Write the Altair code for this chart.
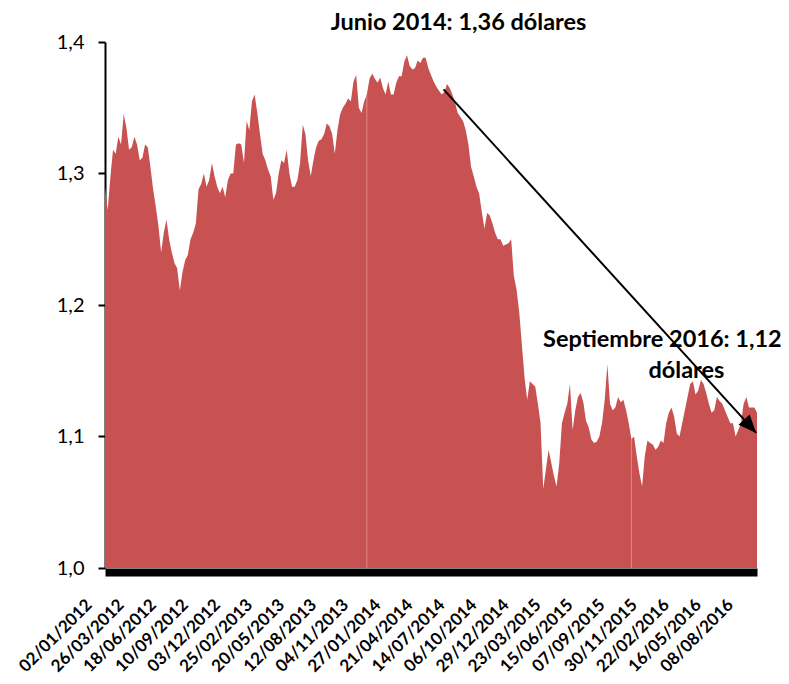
import math
import altair as alt
import pandas as pd

# Weekly EUR/USD readings (one per week, starting Monday 02/01/2012)
valores = [
    1.290, 1.272, 1.297, 1.318, 1.315, 1.328, 1.322, 1.345, 1.335, 1.318,
    1.320, 1.328, 1.322, 1.310, 1.312, 1.322, 1.320, 1.305, 1.288, 1.275,
    1.260, 1.240, 1.255, 1.265, 1.250, 1.240, 1.232, 1.228, 1.211, 1.225,
    1.234, 1.238, 1.250, 1.255, 1.262, 1.288, 1.292, 1.300, 1.290, 1.295,
    1.308, 1.298, 1.290, 1.285, 1.290, 1.282, 1.295, 1.300, 1.300, 1.322,
    1.323, 1.322, 1.308, 1.340, 1.333, 1.355, 1.360, 1.346, 1.330, 1.315,
    1.310, 1.303, 1.298, 1.280, 1.285, 1.300, 1.310, 1.308, 1.318, 1.300,
    1.290, 1.290, 1.295, 1.308, 1.337, 1.330, 1.310, 1.298, 1.310, 1.320,
    1.325, 1.326, 1.330, 1.338, 1.336, 1.330, 1.315, 1.333, 1.345, 1.350,
    1.353, 1.357, 1.355, 1.370, 1.375, 1.350, 1.346, 1.355, 1.360, 1.372,
    1.376, 1.372, 1.369, 1.373, 1.365, 1.360, 1.370, 1.360, 1.360, 1.369,
    1.374, 1.374, 1.385, 1.390, 1.382, 1.379, 1.380, 1.386, 1.384, 1.388,
    1.388, 1.380, 1.375, 1.370, 1.366, 1.363, 1.360, 1.362, 1.368, 1.365,
    1.360, 1.354, 1.346, 1.343, 1.340, 1.333, 1.322, 1.305, 1.298, 1.290,
    1.285, 1.271, 1.258, 1.270, 1.268, 1.262, 1.255, 1.250, 1.250, 1.245,
    1.246, 1.247, 1.250, 1.222, 1.212, 1.195, 1.170, 1.145, 1.128, 1.142,
    1.140, 1.138, 1.125, 1.110, 1.060, 1.075, 1.090, 1.080, 1.070, 1.062,
    1.080, 1.110, 1.118, 1.125, 1.140, 1.105, 1.120, 1.130, 1.133, 1.126,
    1.112, 1.107, 1.098, 1.095, 1.096, 1.100, 1.110, 1.128, 1.155, 1.125,
    1.120, 1.122, 1.130, 1.126, 1.128, 1.120, 1.110, 1.098, 1.100, 1.085,
    1.072, 1.062, 1.085, 1.097, 1.095, 1.094, 1.090, 1.092, 1.097, 1.095,
    1.110, 1.118, 1.122, 1.115, 1.102, 1.100, 1.110, 1.120, 1.130, 1.140,
    1.142, 1.132, 1.135, 1.143, 1.140, 1.133, 1.125, 1.118, 1.120, 1.130,
    1.127, 1.125, 1.120, 1.115, 1.110, 1.110, 1.100, 1.105, 1.110, 1.125,
    1.130, 1.122, 1.122, 1.122, 1.118,
]
semanas = list(range(len(valores)))

etiquetas_x = [
    "02/01/2012", "26/03/2012", "18/06/2012", "10/09/2012", "03/12/2012",
    "25/02/2013", "20/05/2013", "12/08/2013", "04/11/2013", "27/01/2014",
    "21/04/2014", "14/07/2014", "06/10/2014", "29/12/2014", "23/03/2015",
    "15/06/2015", "07/09/2015", "30/11/2015", "22/02/2016", "16/05/2016",
    "08/08/2016",
]
ticks_y = [1.0, 1.1, 1.2, 1.3, 1.4]

# faint seams visible inside the filled area (week index)
costuras = [98, 197]

# Annotations (in data coordinates: week index, value)
flecha_inicio = (126.7, 1.364)
flecha_fin = (243.7, 1.1027)
textos = ["Junio 2014: 1,36 dólares", "Septiembre 2016: 1,12", "dólares"]
textos_x = [132.3, 208.6, 217.6]
textos_y = [1.4088, 1.168, 1.1445]

W, H = 652, 526
FONT = "Lato"
ROJO = "#C75251"

x_scale = alt.Scale(domain=[0, len(valores) - 1], nice=False, zero=False)
y_scale = alt.Scale(domain=[1.0, 1.4], nice=False, zero=False)

df = pd.DataFrame({"semana": semanas, "valor": valores})

label_arr = "[" + ",".join("'" + t + "'" for t in etiquetas_x) + "]"
x_axis = alt.Axis(
    values=[12 * i for i in range(len(etiquetas_x))],
    labelExpr=label_arr + "[round(datum.value/12)]",
    labelAngle=-45, labelAlign="right", labelBaseline="middle",
    labelFont=FONT, labelFontSize=17, labelFontWeight="bold", labelColor="black",
    labelOffset=-16, labelPadding=30, labelFlush=False, labelOverlap=False,
    labelBound=False, ticks=False, tickSize=0,
    domainColor="black", domainWidth=8, offset=4, grid=False, title=None,
)
y_axis = alt.Axis(
    values=ticks_y,
    labelExpr="replace(format(datum.value, '.1f'), '.', ',')",
    labelFont=FONT, labelFontSize=20, labelColor="black", labelPadding=14,
    labelFlush=False, tickSize=7, tickWidth=2, tickColor="black",
    domainColor="black", domainWidth=2, grid=False, title=None,
)

X = lambda f: alt.X(f, scale=x_scale, axis=x_axis, title=None)
Y = lambda f: alt.Y(f, scale=y_scale, axis=y_axis, title=None)

area = alt.Chart(df).mark_area(color=ROJO, opacity=1).encode(
    x=X("semana:Q"),
    y=Y("valor:Q"),
    y2=alt.datum(1.0),
)

cs = pd.DataFrame({"x": costuras, "y": [valores[i] for i in costuras], "y2": [1.0] * len(costuras)})
seams = alt.Chart(cs).mark_rule(color="#DE8C8A", strokeWidth=1).encode(
    x=X("x:Q"), y=Y("y:Q"), y2="y2:Q",
)

fl = pd.DataFrame({
    "x": [flecha_inicio[0]], "y": [flecha_inicio[1]],
    "x2": [flecha_fin[0]], "y2": [flecha_fin[1]],
})
linea = alt.Chart(fl).mark_rule(color="black", strokeWidth=2).encode(
    x=X("x:Q"), y=Y("y:Q"), x2="x2:Q", y2="y2:Q",
)

dx_px = (flecha_fin[0] - flecha_inicio[0]) * W / (len(valores) - 1)
dy_px = (flecha_inicio[1] - flecha_fin[1]) * H / 0.4
ang = 90 + math.degrees(math.atan2(dy_px, dx_px))

punta = alt.Chart(pd.DataFrame({"x": [flecha_fin[0]], "y": [flecha_fin[1]]})).mark_point(
    shape="M0,0L-0.42,1L0.42,1Z", filled=True, size=1300, angle=ang,
    color="black", opacity=1, strokeWidth=0,
).encode(x=X("x:Q"), y=Y("y:Q"))

tdf = pd.DataFrame({"x": textos_x, "y": textos_y, "t": textos})
texto = alt.Chart(tdf).mark_text(
    font=FONT, fontWeight="bold", fontSize=23.5, align="center",
    baseline="alphabetic", color="black",
).encode(x=X("x:Q"), y=Y("y:Q"), text="t:N")

chart = alt.layer(area, seams, linea, punta, texto).properties(
    width=W, height=H,
    background="white",
    autosize=alt.AutoSizeParams(type="none"),
    padding={"left": 97, "top": 34, "right": 24, "bottom": 108},
).configure_view(stroke=None)

chart.save("out.html", embed_options={"renderer": "svg", "actions": False})
